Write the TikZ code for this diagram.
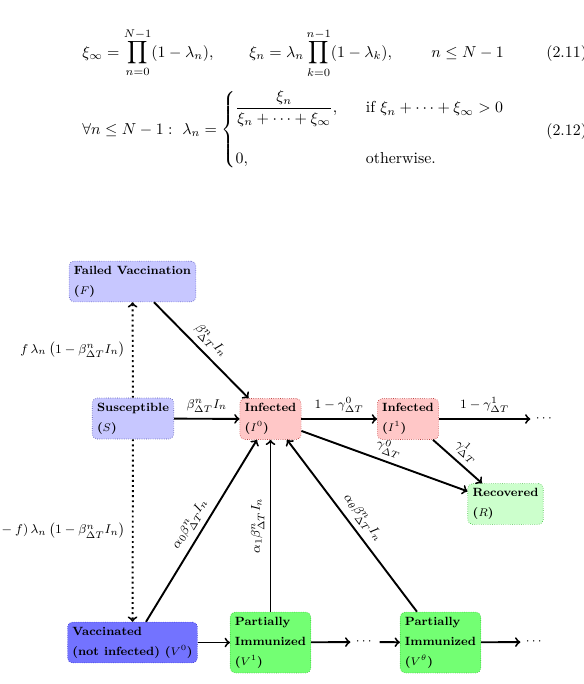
\documentclass[tikz,border=0pt]{standalone}
\usepackage{amsmath}
\begin{document}
\begin{tikzpicture}[
      x=0.629pt, y=-0.629pt,
      every node/.style={font=\fontsize{8.1}{10}\selectfont},
      eqn/.style={font=\normalsize, inner sep=0pt},
      state/.style={draw, densely dotted, thin, rounded corners=3pt, align=left, inner sep=3pt, font=\fontsize{7.5}{9}\selectfont\bfseries},
      sfill/.style={fill=blue!22, draw=blue!40!gray},
      vfill/.style={fill=blue!55, draw=blue!60!gray},
      ifill/.style={fill=red!22, draw=red!50!gray},
      rfill/.style={fill=green!20, draw=green!50!gray},
      pfill/.style={fill=green!55, draw=green!50!gray},
      flow/.style={->, line width=1.2pt},
      vflow/.style={flow, dotted}
    ]
      \useasboundingbox (0,0) rectangle (583,684);

      % equations
      \node[eqn, anchor=base west] (eqa) at (82,57) {$\displaystyle\xi_\infty=\prod_{n=0}^{N-1}(1-\lambda_n),$};
      \node[eqn, anchor=base west] (eqb) at (249,57) {$\displaystyle\xi_n=\lambda_n\prod_{k=0}^{n-1}(1-\lambda_k),$};
      \node[eqn, anchor=base west] (eqc) at (431,57) {$n\le N-1$};
      \node[eqn, anchor=base west] (tag1) at (546,57) {(2.11)};
      \node[eqn, anchor=base west] (eqd) at (82,134) {$\displaystyle\forall n\le N-1:\ \lambda_n=\left\{\begin{array}{@{}l@{\hspace{18pt}}l@{}}
          \dfrac{\xi_n}{\xi_n+\cdots+\xi_\infty}, & \text{if } \xi_n+\cdots+\xi_\infty>0\\[20pt]
          0, & \text{otherwise.}
        \end{array}\right.$};
      \node[eqn, anchor=base west] (tag2) at (546,135) {(2.12)};

      % states
      \node[state, sfill] (fail) at (132.5,281.5) {Failed Vaccination\\[3.6pt]($F$)};
      \node[state, sfill] (susc) at (133,418.5) {Susceptible\\[3.6pt]($S$)};
      \node[state, ifill] (inf0) at (270.5,419) {Infected\\[3.6pt]($I^0$)};
      \node[state, ifill] (inf1) at (408,419) {Infected\\[3.6pt]($I^1$)};
      \node[state, rfill] (recv) at (505.5,504) {Recovered\\[3.6pt]($R$)};
      \node[state, vfill] (vac0) at (132.5,642.5) {Vaccinated\\[3.6pt](not infected) ($V^0$)};
      \node[state, pfill] (vac1) at (270.5,642.5) {Partially\\[3.6pt]Immunized\\[3.6pt]($V^1$)};
      \node[state, pfill] (vact) at (440.5,642.5) {Partially\\[3.6pt]Immunized\\[3.6pt]($V^\theta$)};
      \node (dotsI) at (545,419) {$\cdots$};
      \node (dotsV) at (365,642) {$\cdots$};
      \node (dotsE) at (535,642) {$\cdots$};

      % transitions
      \draw[vflow] (susc) -- node[left=1pt] {$f\,\lambda_n\,\bigl(1-\beta^n_{\Delta T}I_n\bigr)$} (fail);
      \draw[vflow] (susc) -- node[left=1pt] {$(1-f)\,\lambda_n\,\bigl(1-\beta^n_{\Delta T}I_n\bigr)$} (vac0);
      \draw[flow] ([xshift=13.5pt]fail.south) -- node[above, sloped] {$\beta^n_{\Delta T}I_n$} ([xshift=-13.8pt]inf0.north);
      \draw[flow] (susc) -- node[above] {$\beta^n_{\Delta T}I_n$} (inf0);
      \draw[flow] (inf0) -- node[above] {$1-\gamma^0_{\Delta T}$} (inf1);
      \draw[flow] (inf1) -- node[above] {$1-\gamma^1_{\Delta T}$} (dotsI);
      \draw[flow] ([yshift=-7.5pt]inf0.east) -- node[above, sloped] {$\gamma^0_{\Delta T}$} ([yshift=8pt]recv.west);
      \draw[flow] ([xshift=15.7pt]inf1.south) -- node[above, sloped] {$\gamma^1_{\Delta T}$} ([xshift=-14.8pt]recv.north);
      \draw[flow] ([xshift=8.5pt]vac0.north) -- node[above, sloped] {$\alpha_0\beta^n_{\Delta T}I_n$} ([xshift=-8.5pt]inf0.south);
      \draw[flow] (vac1) -- node[above, sloped] {$\alpha_1\beta^n_{\Delta T}I_n$} (inf0);
      \draw[flow] ([xshift=-14.8pt]vact.north) -- node[above, sloped] {$\alpha_\theta\beta^n_{\Delta T}I_n$} ([xshift=10.4pt]inf0.south);
      \draw[flow] (vac0) -- (vac1);
      \draw[flow] (vac1) -- (dotsV);
      \draw[flow] (dotsV) -- (vact);
      \draw[flow] (vact) -- (dotsE);
    \end{tikzpicture}
\end{document}
